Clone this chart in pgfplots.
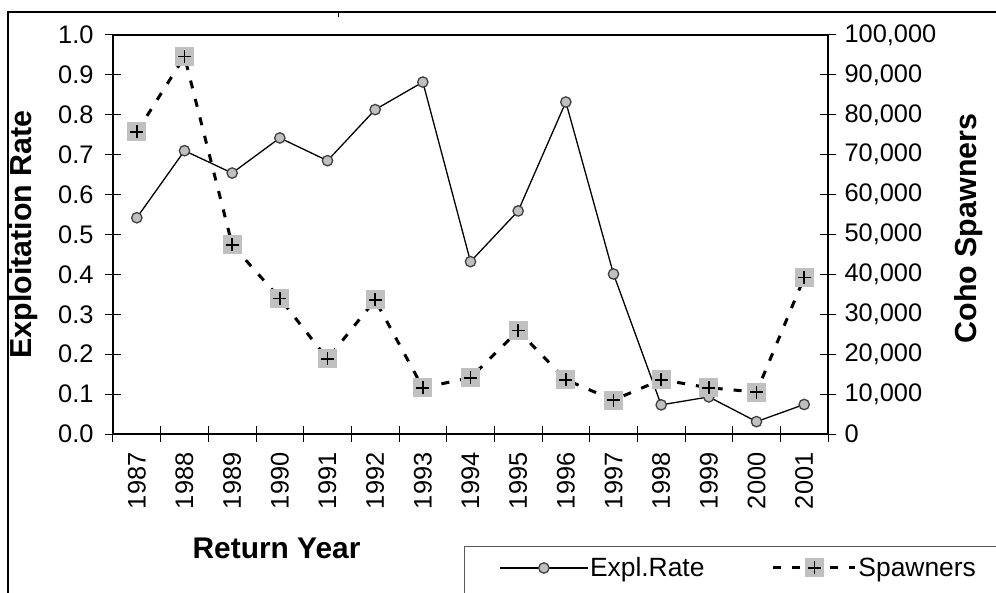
\documentclass[border=0pt]{standalone}
\usepackage{fontspec}
\setmainfont{Liberation Sans}
\usepackage{pgfplots}
\pgfplotsset{compat=1.18}
\definecolor{mgray}{HTML}{C0C0C0}
\definecolor{mdark}{HTML}{404040}

\pgfdeclareplotmark{sqplus}{%
  \pgfsetdash{}{0pt}%
  \pgfpathrectangle{\pgfpoint{-9.5bp}{-9.5bp}}{\pgfpoint{19bp}{19bp}}%
  \pgfsetfillcolor{mgray}%
  \pgfusepathqfill
  \pgfsetlinewidth{1.6bp}%
  \pgfsetstrokecolor{black}%
  \pgfpathmoveto{\pgfpoint{-6.5bp}{0bp}}\pgfpathlineto{\pgfpoint{6.5bp}{0bp}}%
  \pgfpathmoveto{\pgfpoint{0bp}{-6.5bp}}\pgfpathlineto{\pgfpoint{0bp}{6.5bp}}%
  \pgfusepathqstroke
}

\pgfplotsset{
  explleg/.style={legend image code/.code={\draw[mark repeat=2,mark phase=2,##1] plot coordinates {(0bp,0bp) (44bp,0bp) (88bp,0bp)};}},
  spawnleg/.style={legend image code/.code={\draw[mark repeat=2,mark phase=2,##1] plot coordinates {(0bp,0bp) (41bp,0bp) (82bp,0bp)};}},
}

\pgfplotstableread{
x expl spawn
0 0.542 75700
1 0.710 94600
2 0.654 47400
3 0.742 34000
4 0.685 18800
5 0.813 33600
6 0.882 11600
7 0.432 14100
8 0.559 25900
9 0.832 13600
10 0.401 8500
11 0.073 13600
12 0.093 11600
13 0.031 10500
14 0.074 39200
}\datatable

\begin{document}
\begin{tikzpicture}
\useasboundingbox (-113bp,-159bp) rectangle (883bp,434bp);
% outer chart-area frame (partially visible)
\draw[line width=1.6bp] (-105bp,-170bp) -- (-105bp,422bp) -- (900bp,422bp);
\draw[line width=1bp] (225bp,422bp) -- (225bp,417bp);

\begin{axis}[
  at={(0,0)}, anchor=south west,
  scale only axis, width=715bp, height=399bp,
  xmin=-0.5, xmax=14.5, ymin=0, ymax=1,
  xtick={0,...,14},
  xticklabels={1987,1988,1989,1990,1991,1992,1993,1994,1995,1996,1997,1998,1999,2000,2001},
  minor xtick={-0.5,0.5,1.5,2.5,3.5,4.5,5.5,6.5,7.5,8.5,9.5,10.5,11.5,12.5,13.5,14.5},
  major x tick style={draw=none},
  ytick={0,0.1,0.2,0.3,0.4,0.5,0.6,0.7,0.8,0.9,1.0},
  xtick pos=bottom, ytick pos=left,
  tick align=center, major tick length=16bp, minor tick length=16bp,
  every tick/.style={black, line width=1bp},
  axis line style={line width=1.3bp},
  /pgf/number format/assume math mode=true,
  yticklabel style={xshift=-8bp, /pgf/number format/.cd, fixed, fixed zerofill, precision=1},
  ticklabel style={font=\fontsize{25.5}{30}\selectfont},
  xticklabel style={yshift=-7bp, rotate=90, anchor=east},
  xlabel={Return Year},
  xlabel style={at={(axis description cs:0.2287,-0.2857)}, anchor=center, font=\bfseries\fontsize{30}{35}\selectfont},
  ylabel={Exploitation Rate},
  ylabel style={at={(axis description cs:-0.1245,0.5)}, anchor=center, rotate=0, font=\bfseries\fontsize{30.5}{35}\selectfont},
]
\addplot[black, line width=1.3bp, mark=*, mark size=5.2bp,
  mark options={fill=mgray, draw=mdark, line width=1.3bp, solid}]
  table[x=x, y=expl] {\datatable};
\end{axis}

\begin{axis}[
  at={(0,0)}, anchor=south west,
  scale only axis, width=715bp, height=399bp,
  xmin=-0.5, xmax=14.5, ymin=0, ymax=100000,
  axis x line=none, axis y line*=right,
  ytick={0,10000,20000,30000,40000,50000,60000,70000,80000,90000,100000},
  scaled y ticks=false,
  tick align=center, major tick length=16bp,
  every tick/.style={black, line width=1bp},
  axis line style={line width=1.3bp},
  /pgf/number format/assume math mode=true,
  yticklabel style={xshift=5bp, /pgf/number format/.cd, fixed, 1000 sep={,}},
  ticklabel style={font=\fontsize{25.5}{30}\selectfont},
  ylabel={Coho Spawners},
  ylabel style={at={(axis description cs:1.1965,0.515)}, anchor=center, rotate=0, font=\bfseries\fontsize{30.5}{35}\selectfont},
  legend columns=2,
  legend style={at={(axis description cs:0.5399,-0.3358)}, anchor=west,
    draw=none, fill=none, inner xsep=0pt, inner ysep=0pt,
    font=\fontsize{26.5}{31}\selectfont,
    nodes={inner xsep=1.5bp, inner ysep=0pt},
    /tikz/every even column/.append style={column sep=66bp}},
  legend cell align=left,
]
\addlegendimage{black, line width=1.3bp, mark=*, mark size=5.2bp,
  mark options={fill=mgray, draw=mdark, line width=1.3bp, solid}, explleg}
\addlegendentry{Expl.Rate}
\addplot[black, line width=3bp, dash pattern=on 8bp off 11bp, mark=sqplus, spawnleg]
  table[x=x, y=spawn] {\datatable};
\addlegendentry{Spawners}
\end{axis}
% legend frame (extends beyond the visible region)
\draw[line width=1bp, gray!70!black] (351bp,-170bp) -- (351bp,-112bp) -- (900bp,-112bp);
\end{tikzpicture}
\end{document}
